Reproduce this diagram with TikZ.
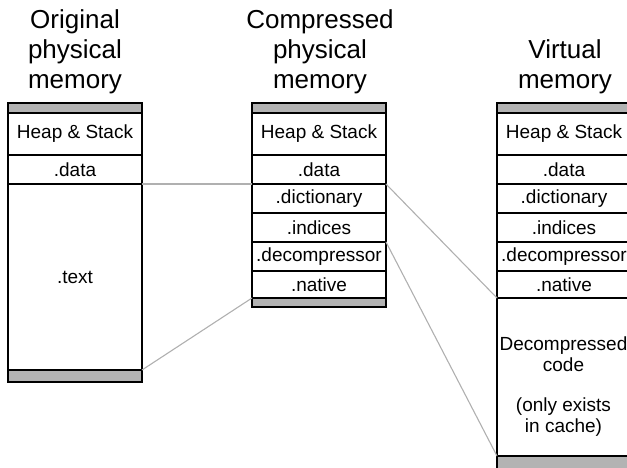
\documentclass[tikz,border=0pt]{standalone}
\usepackage{fontspec}
\setmainfont{Liberation Sans}
\definecolor{bargray}{RGB}{179,179,179}
\definecolor{linegray}{RGB}{176,176,176}
\tikzset{
  cell/.style={draw=black, line width=2.5pt, inner sep=0pt, outer sep=0pt,
    anchor=north west, minimum width=134pt, align=center,
    font=\fontsize{19}{21}\selectfont},
  bar/.style={cell, fill=bargray, minimum height=10pt},
  title/.style={anchor=base, inner sep=0pt, font=\fontsize{26}{30}\selectfont},
  conn/.style={draw=linegray, line width=1.1pt},
  body/.style={inner sep=0pt, align=center, font=\fontsize{19}{21}\selectfont}
}
\begin{document}
\begin{tikzpicture}[x=1pt,y=-1pt]
\useasboundingbox (0,0) rectangle (627,468);
\clip (0,0) rectangle (627,468);
% titles
\node[title] (t1a) at (75,29) {Original};
\node[title] (t1b) at (75,59) {physical};
\node[title] (t1c) at (75,89) {memory};
\node[title] (t2a) at (320,29) {Compressed};
\node[title] (t2b) at (320,59) {physical};
\node[title] (t2c) at (320,89) {memory};
\node[title] (t3a) at (565,59) {Virtual};
\node[title] (t3b) at (565,89) {memory};
% left column
\node[bar] (L-top) at (8,103) {};
\node[cell, minimum height=42pt] (L-hs) at (8,113) {Heap \& Stack};
\node[cell, minimum height=29pt] (L-data) at (8,155) {.data};
\node[cell, minimum height=186pt] (L-text) at (8,184) {.text};
\node[bar, minimum height=12pt] (L-bot) at (8,370) {};
% middle column
\node[bar] (M-top) at (252,103) {};
\node[cell, minimum height=42pt] (M-hs) at (252,113) {Heap \& Stack};
\node[cell, minimum height=29pt] (M-data) at (252,155) {.data};
\node[cell, minimum height=29pt] (M-dict) at (252,184) {.dictionary};
\node[cell, minimum height=29pt] (M-ind) at (252,213) {.indices};
\node[cell, minimum height=29pt] (M-dec) at (252,242) {.decompressor};
\node[cell, minimum height=27pt] (M-nat) at (252,271) {.native};
\node[bar, minimum height=9pt] (M-bot) at (252,298) {};
% right column
\node[bar] (R-top) at (497,103) {};
\node[cell, minimum height=42pt] (R-hs) at (497,113) {Heap \& Stack};
\node[cell, minimum height=29pt] (R-data) at (497,155) {.data};
\node[cell, minimum height=29pt] (R-dict) at (497,184) {.dictionary};
\node[cell, minimum height=29pt] (R-ind) at (497,213) {.indices};
\node[cell, minimum height=29pt] (R-dec) at (497,242) {.decompressor};
\node[cell, minimum height=27pt] (R-nat) at (497,271) {.native};
\node[cell, minimum height=158pt] (R-code) at (497,298) {};
\node[bar, minimum height=14pt] (R-bot) at (497,456) {};
\node[body] (R-txt) at (563.5,387) {Decompressed\\code\\[19pt](only exists\\in cache)};
% connectors
\draw[conn] (L-data.south east) -- (M-data.south west);
\draw[conn] (L-bot.north east) -- (M-bot.north west);
\draw[conn] (M-data.south east) -- (R-nat.south west);
\draw[conn] (M-ind.south east) -- (R-code.south west);
\end{tikzpicture}
\end{document}
